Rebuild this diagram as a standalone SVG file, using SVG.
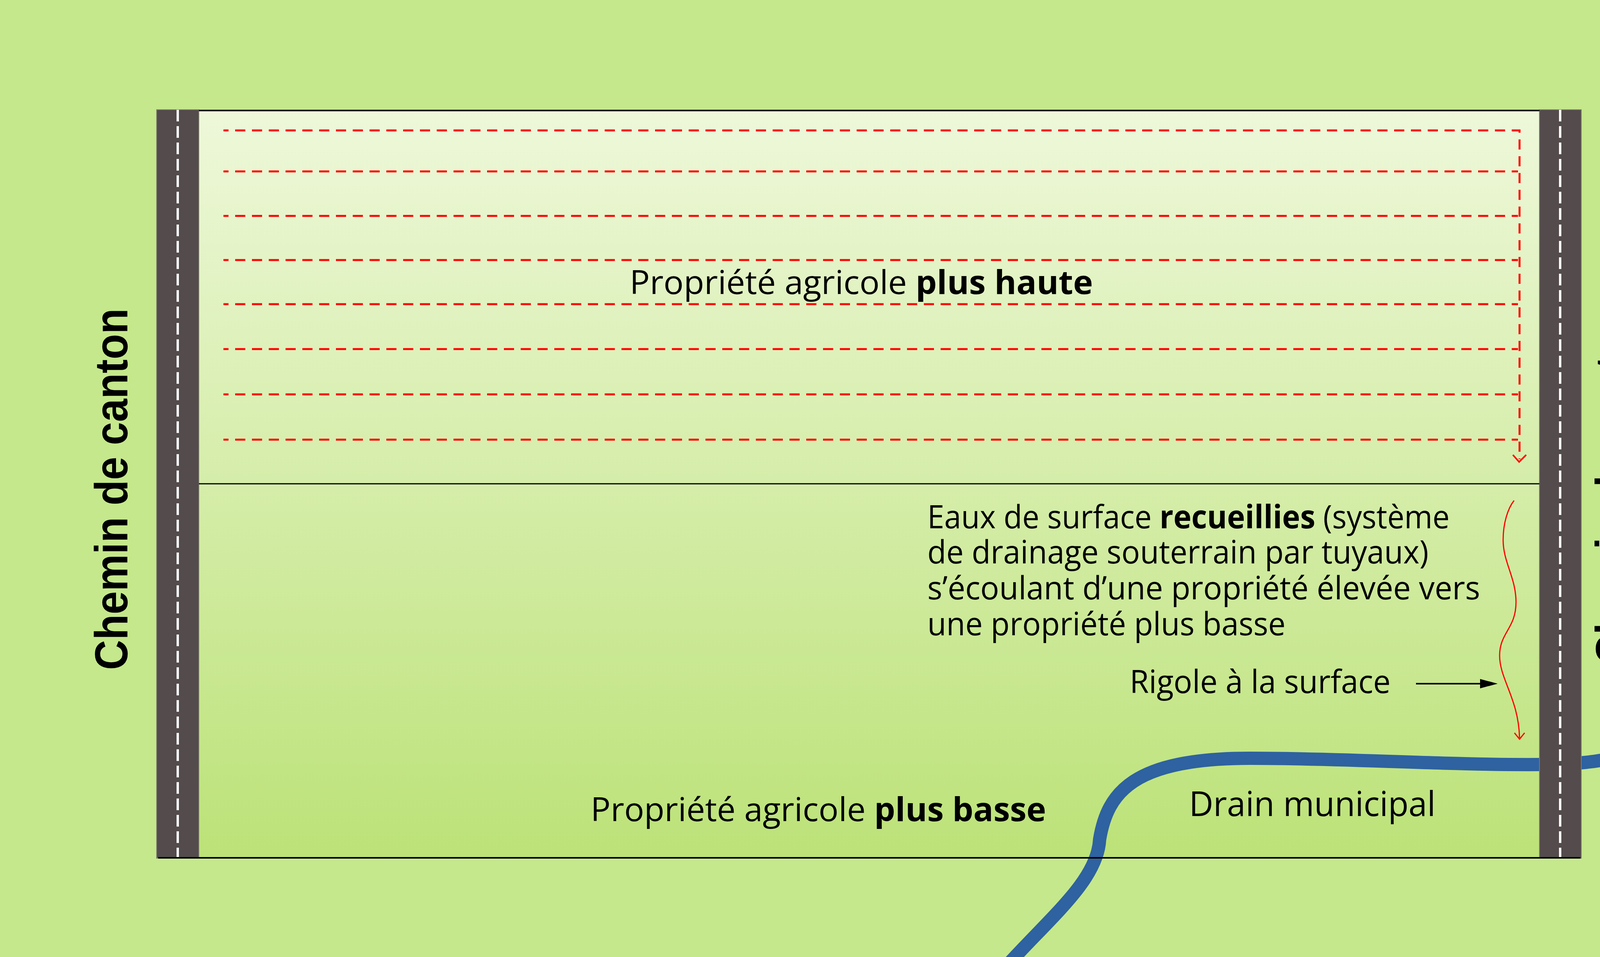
<svg xmlns="http://www.w3.org/2000/svg" width="4411" height="2451" viewBox="0 0 4411 2451">
<defs>
<linearGradient id="field" x1="0" y1="283" x2="0" y2="2197" gradientUnits="userSpaceOnUse">
<stop offset="0" stop-color="#eef8da"/>
<stop offset="0.5" stop-color="#d5eda9"/>
<stop offset="1" stop-color="#bce278"/>
</linearGradient>
<style>
.road{fill:#534b4c;stroke:#7d7b6b;stroke-width:2}
.lane{stroke:#ffffff;stroke-width:6;stroke-dasharray:30 12;fill:none}
.edge{stroke:#000;fill:none}
.flow{stroke:#ff0000;stroke-width:5;stroke-dasharray:26 17;stroke-dashoffset:13;fill:none}
.red{stroke:#ff0000;fill:none}
.txt{font-family:"Open Sans","Noto Sans",sans-serif;fill:#000}
.road-t{font-family:"Liberation Sans",Arial,sans-serif;font-weight:bold;font-size:118px;fill:#000}
</style>
</defs>
<rect width="4411" height="2451" fill="#c5e88c"/>

<g id="properties">
<rect x="509" y="283" width="3432" height="1914" fill="url(#field)"/>
</g>

<g id="connectors">
<path class="flow" d="M572 334 H3890 V1176"/>
<line class="flow" x1="572" y1="439" x2="3886" y2="439"/>
<line class="flow" x1="572" y1="553" x2="3886" y2="553"/>
<line class="flow" x1="572" y1="666" x2="3886" y2="666"/>
<line class="flow" x1="572" y1="779" x2="3886" y2="779"/>
<line class="flow" x1="572" y1="894" x2="3886" y2="894"/>
<line class="flow" x1="572" y1="1010" x2="3886" y2="1010"/>
<line class="flow" x1="572" y1="1126" x2="3886" y2="1126"/>
<polyline class="red" stroke-width="4" points="3873,1165 3889,1183 3907,1165"/>
<path class="red" stroke-width="3" d="M3876 1282 C3860 1302 3848 1340 3848 1383 C3848 1440 3881 1480 3881 1542 C3881 1610 3839 1620 3839 1679 C3839 1740 3888 1790 3890 1891"/>
<polyline class="red" stroke-width="3" points="3877,1877 3890,1893 3903,1877"/>
<line x1="3625" y1="1751" x2="3795" y2="1751" stroke="#000" stroke-width="4"/>
<polygon points="3789,1739 3834,1751 3789,1763" fill="#000"/>
</g>

<g id="drain">
<path d="M2585 2465 C2700 2340 2810 2250 2815 2150 C2835 2030 2900 1942 3200 1942 C3450 1942 3700 1960 3950 1958 C4050 1957 4120 1948 4180 1928" fill="none" stroke="#2e62a0" stroke-width="34"/>
</g>

<g id="road-left">
<rect class="road" x="401" y="281" width="108" height="1917"/>
<line class="lane" x1="455" y1="281" x2="455" y2="2198"/>
</g>
<g id="road-right">
<rect class="road" x="3941" y="281" width="107" height="1917"/>
<line class="lane" x1="3994" y1="281" x2="3994" y2="2198"/>
</g>

<g id="boundaries">
<line class="edge" stroke-width="4" x1="509" y1="283" x2="3941" y2="283"/>
<line class="edge" stroke-width="3" x1="509" y1="1239" x2="3941" y2="1239"/>
<line class="edge" stroke-width="4" x1="405" y1="2197" x2="4046" y2="2197"/>
</g>

<g id="label-upper">
<text class="txt" x="1612" y="753" font-size="85" textLength="1186" lengthAdjust="spacingAndGlyphs">Propriété agricole <tspan font-weight="bold">plus haute</tspan></text>
</g>
<g id="label-lower">
<text class="txt" x="1512" y="2103" font-size="85" textLength="1166" lengthAdjust="spacingAndGlyphs">Propriété agricole <tspan font-weight="bold">plus basse</tspan></text>
</g>
<g id="label-surface-water">
<text class="txt" x="2374" y="1353" font-size="82" textLength="1337" lengthAdjust="spacingAndGlyphs">Eaux de surface <tspan font-weight="bold">recueillies</tspan> (système</text>
<text class="txt" x="2374" y="1443" font-size="82" textLength="1283" lengthAdjust="spacingAndGlyphs">de drainage souterrain par tuyaux)</text>
<text class="txt" x="2374" y="1535" font-size="82" textLength="1415" lengthAdjust="spacingAndGlyphs">s’écoulant d’une propriété élevée vers</text>
<text class="txt" x="2374" y="1627" font-size="82" textLength="917" lengthAdjust="spacingAndGlyphs">une propriété plus basse</text>
</g>
<g id="label-rigole">
<text class="txt" x="2892" y="1775" font-size="82" textLength="668" lengthAdjust="spacingAndGlyphs">Rigole à la surface</text>
</g>
<g id="label-drain">
<text class="txt" x="3044" y="2090" font-size="87" textLength="631" lengthAdjust="spacingAndGlyphs">Drain municipal</text>
</g>
<g id="label-road-left">
<text class="road-t" transform="translate(326 1716) rotate(-90)" textLength="926" lengthAdjust="spacingAndGlyphs">Chemin de canton</text>
</g>
<g id="label-road-right">
<text class="road-t" transform="translate(4168 1702) rotate(-90)" textLength="921" lengthAdjust="spacingAndGlyphs">Chemin de canton</text>
</g>
</svg>
